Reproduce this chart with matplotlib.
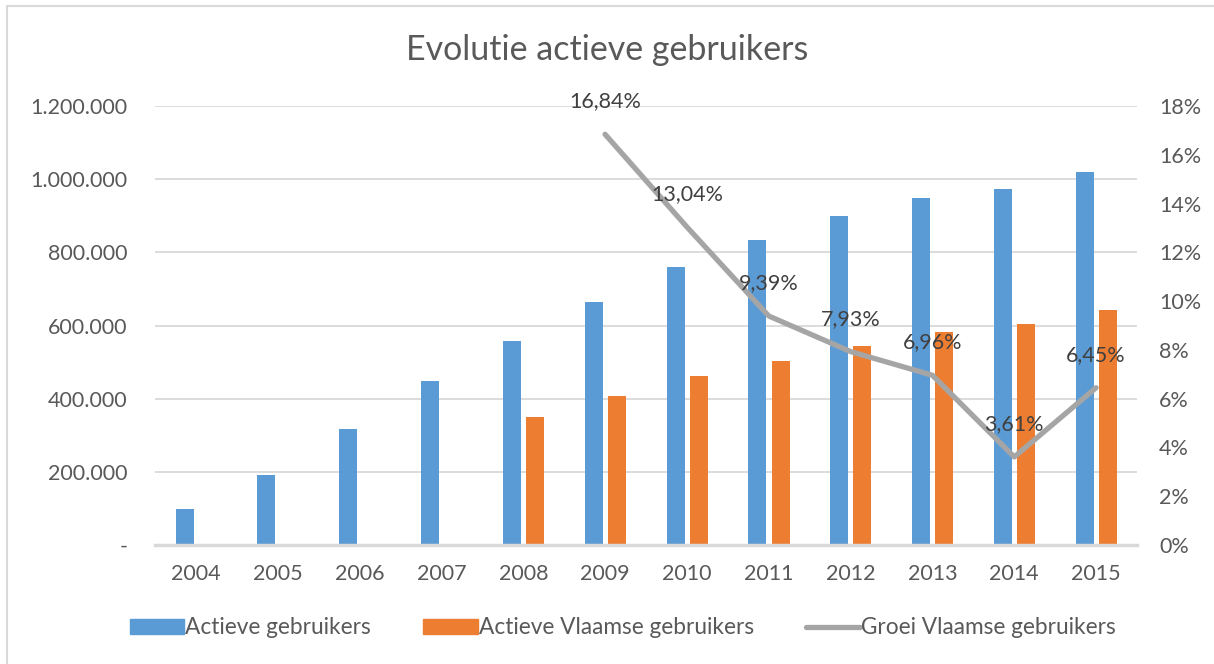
import numpy as np
import matplotlib.pyplot as plt
from matplotlib.patches import Patch, Rectangle
from matplotlib.lines import Line2D
from matplotlib.ticker import FuncFormatter, MultipleLocator

years = ['2004', '2005', '2006', '2007', '2008', '2009', '2010',
         '2011', '2012', '2013', '2014', '2015']
actieve = [99000, 191000, 316000, 449000, 557000, 665000, 760000,
           834000, 898000, 949000, 974000, 1020000]
vlaamse = [np.nan, np.nan, np.nan, np.nan, 349000, 407800, 460900,
           504200, 544200, 582100, 603100, 642000]
groei_years = ['2009', '2010', '2011', '2012', '2013', '2014', '2015']
groei = [0.1684, 0.1304, 0.0939, 0.0793, 0.0696, 0.0361, 0.0645]
groei_labels = ['16,84%', '13,04%', '9,39%', '7,93%', '6,96%', '3,61%', '6,45%']

plt.rcParams['font.family'] = ['Lato', 'DejaVu Sans']
txt = '#595959'

fig = plt.figure(figsize=(12.14, 6.64), dpi=100)
ax = fig.add_axes([155/1214, 1-545/664, (1137-155)/1214, (545-106)/664])

x = np.arange(len(years))
ax.bar(x - 0.138, actieve, width=0.22, color='#5B9BD5', zorder=2)
ax.bar(x + 0.145, vlaamse, width=0.22, color='#ED7D31', zorder=2)
ax.set_xlim(-0.5, len(years) - 0.5)
ax.set_ylim(0, 1200000)
ax.yaxis.set_major_locator(MultipleLocator(200000))
ax.yaxis.set_major_formatter(FuncFormatter(
    lambda v, p: '-' if v == 0 else f'{int(v):,}'.replace(',', '.')))
ax.set_xticks(x)
ax.set_xticklabels(years)
ax.yaxis.grid(True, color='#D9D9D9', lw=1.3, zorder=0)
ax.set_axisbelow(True)
ax.tick_params(length=0, labelsize=15.5, colors=txt)
ax.tick_params(axis='y', pad=20)
ax.tick_params(axis='x', pad=14)
ax.spines[['left', 'right', 'top']].set_visible(False)
ax.spines['bottom'].set_color('#D9D9D9')
ax.spines['bottom'].set_linewidth(2.5)

ax2 = ax.twinx()
gx = [years.index(y) for y in groei_years]
ax2.plot(gx, groei, color='#A5A5A5', lw=3.8, solid_capstyle='round', zorder=3)
for xi, v, lab in zip(gx, groei, groei_labels):
    ax2.annotate(lab, (xi, v), xytext=(0, 33), textcoords='offset pixels',
                 ha='center', va='center', fontsize=15.5, color='#404040')
ax2.set_ylim(0, 0.18)
ax2.yaxis.set_major_locator(MultipleLocator(0.02))
ax2.yaxis.set_major_formatter(FuncFormatter(lambda v, p: f'{v*100:.0f}%'))
ax2.tick_params(length=0, labelsize=15.5, colors=txt, pad=16)
for s in ax2.spines.values():
    s.set_visible(False)

fig.text(0.5, 1 - 50/664, 'Evolutie actieve gebruikers', ha='center', va='center',
         fontsize=24.5, color=txt)

handles = [Patch(color='#5B9BD5'), Patch(color='#ED7D31'),
           Line2D([], [], color='#A5A5A5', lw=3.8, solid_capstyle='round')]
fig.legend(handles, ['Actieve gebruikers', 'Actieve Vlaamse gebruikers',
                     'Groei Vlaamse gebruikers'],
           loc='center', bbox_to_anchor=(623/1214, 1 - 628/664), ncol=3,
           frameon=False, fontsize=16.3, labelcolor=txt, handlelength=2.4,
           handleheight=0.6, handletextpad=0.05, columnspacing=2.3)

fig.patches.append(Rectangle((7/1214, -0.1), 1.2, 1 - 6/664 + 0.1,
                             transform=fig.transFigure, fill=False,
                             edgecolor='#D9D9D9', lw=1.5))

fig.savefig('out.png', dpi=100)
